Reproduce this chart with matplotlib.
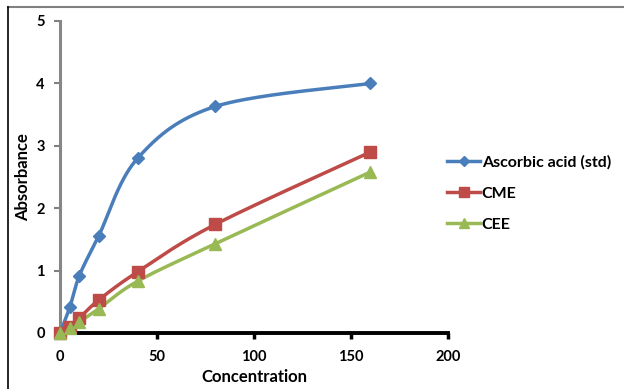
import numpy as np
import matplotlib
matplotlib.use("Agg")
import matplotlib.pyplot as plt
from matplotlib.lines import Line2D

concentration = [0, 5, 10, 20, 40, 80, 160]
ascorbic = [0.0, 0.41, 0.92, 1.56, 2.80, 3.63, 4.00]
cme = [0.0, 0.10, 0.24, 0.53, 0.98, 1.74, 2.90]
cee = [0.0, 0.08, 0.18, 0.39, 0.83, 1.43, 2.58]

series_names = ["Ascorbic acid (std)", "CME", "CEE"]
x_ticks = [0, 50, 100, 150, 200]
y_ticks = [0, 1, 2, 3, 4, 5]

plt.rcParams['font.family'] = ['Lato', 'DejaVu Sans']
plt.rcParams['font.weight'] = 'bold'


def smooth(x, y, n=40):
    """Catmull-Rom style smoothing through the points."""
    x = np.asarray(x, float)
    y = np.asarray(y, float)
    px = np.concatenate([[x[0]], x, [x[-1]]])
    py = np.concatenate([[y[0]], y, [y[-1]]])
    xs, ys = [], []
    for i in range(1, len(px) - 2):
        p0 = np.array([px[i - 1], py[i - 1]])
        p1 = np.array([px[i], py[i]])
        p2 = np.array([px[i + 1], py[i + 1]])
        p3 = np.array([px[i + 2], py[i + 2]])
        c1 = p1 + (p2 - p0) / 6.0
        c2 = p2 - (p3 - p1) / 6.0
        t = np.linspace(0, 1, n)[:, None]
        b = ((1 - t) ** 3) * p1 + 3 * ((1 - t) ** 2) * t * c1 + 3 * (1 - t) * t ** 2 * c2 + t ** 3 * p2
        xs.append(b[:, 0])
        ys.append(b[:, 1])
    return np.concatenate(xs), np.concatenate(ys)


fig = plt.figure(figsize=(6.24, 3.89), dpi=100)
ax = fig.add_axes([60 / 624, 1 - 333 / 389, (448 - 60) / 624, (333 - 21) / 389])

styles = [
    (ascorbic, "#4A7EBB", "D", 6.5),
    (cme, "#BE4B48", "s", 8),
    (cee, "#98B954", "^", 8.5),
]
handles = []
for (vals, color, marker, ms), name in zip(styles, series_names):
    sx, sy = smooth(concentration, vals)
    ax.plot(sx, sy, color=color, lw=2.5, solid_capstyle='round', zorder=3, clip_on=False)
    ax.plot(concentration, vals, linestyle='none', marker=marker, ms=ms,
            color=color, mec=color, zorder=4, clip_on=False)
    handles.append(Line2D([0], [0], color=color, lw=2.5, marker=marker, ms=ms * 0.85,
                          mec=color))

ax.set_xlim(0, 200)
ax.set_ylim(0, 5)
ax.set_xticks(x_ticks)
ax.set_yticks(y_ticks)
ax.tick_params(axis='both', labelsize=10.5)
ax.tick_params(axis='y', direction='out', length=4, width=1.5, color='#808080', pad=7)
ax.tick_params(axis='x', direction='out', length=4, width=2.5, color='black', pad=8)

for s in ['top', 'right']:
    ax.spines[s].set_visible(False)
ax.spines['left'].set_color('#868686')
ax.spines['left'].set_linewidth(2.2)
ax.spines['bottom'].set_color('black')
ax.spines['bottom'].set_linewidth(2.8)

ax.set_xlabel("Concentration", fontsize=12, fontweight='bold', labelpad=4)
ax.set_ylabel("Absorbance", fontsize=12, fontweight='bold', labelpad=4)

leg = fig.legend(handles=handles, labels=series_names, loc='upper left',
                 bbox_to_anchor=(433 / 624, 1 - 141 / 389), frameon=False,
                 handlelength=2.05, handletextpad=0.1,
                 labelspacing=1.05, prop={'weight': 'bold', 'size': 11.5})

# chart frame
fig.add_artist(Line2D([8 / 624, 1.0], [1 - 7 / 389, 1 - 7 / 389],
                      transform=fig.transFigure, color='#808080', lw=1.5))
fig.add_artist(Line2D([8 / 624, 8 / 624], [0, 1 - 7 / 389],
                      transform=fig.transFigure, color='black', lw=1.2))

fig.savefig("out.png", dpi=100)
